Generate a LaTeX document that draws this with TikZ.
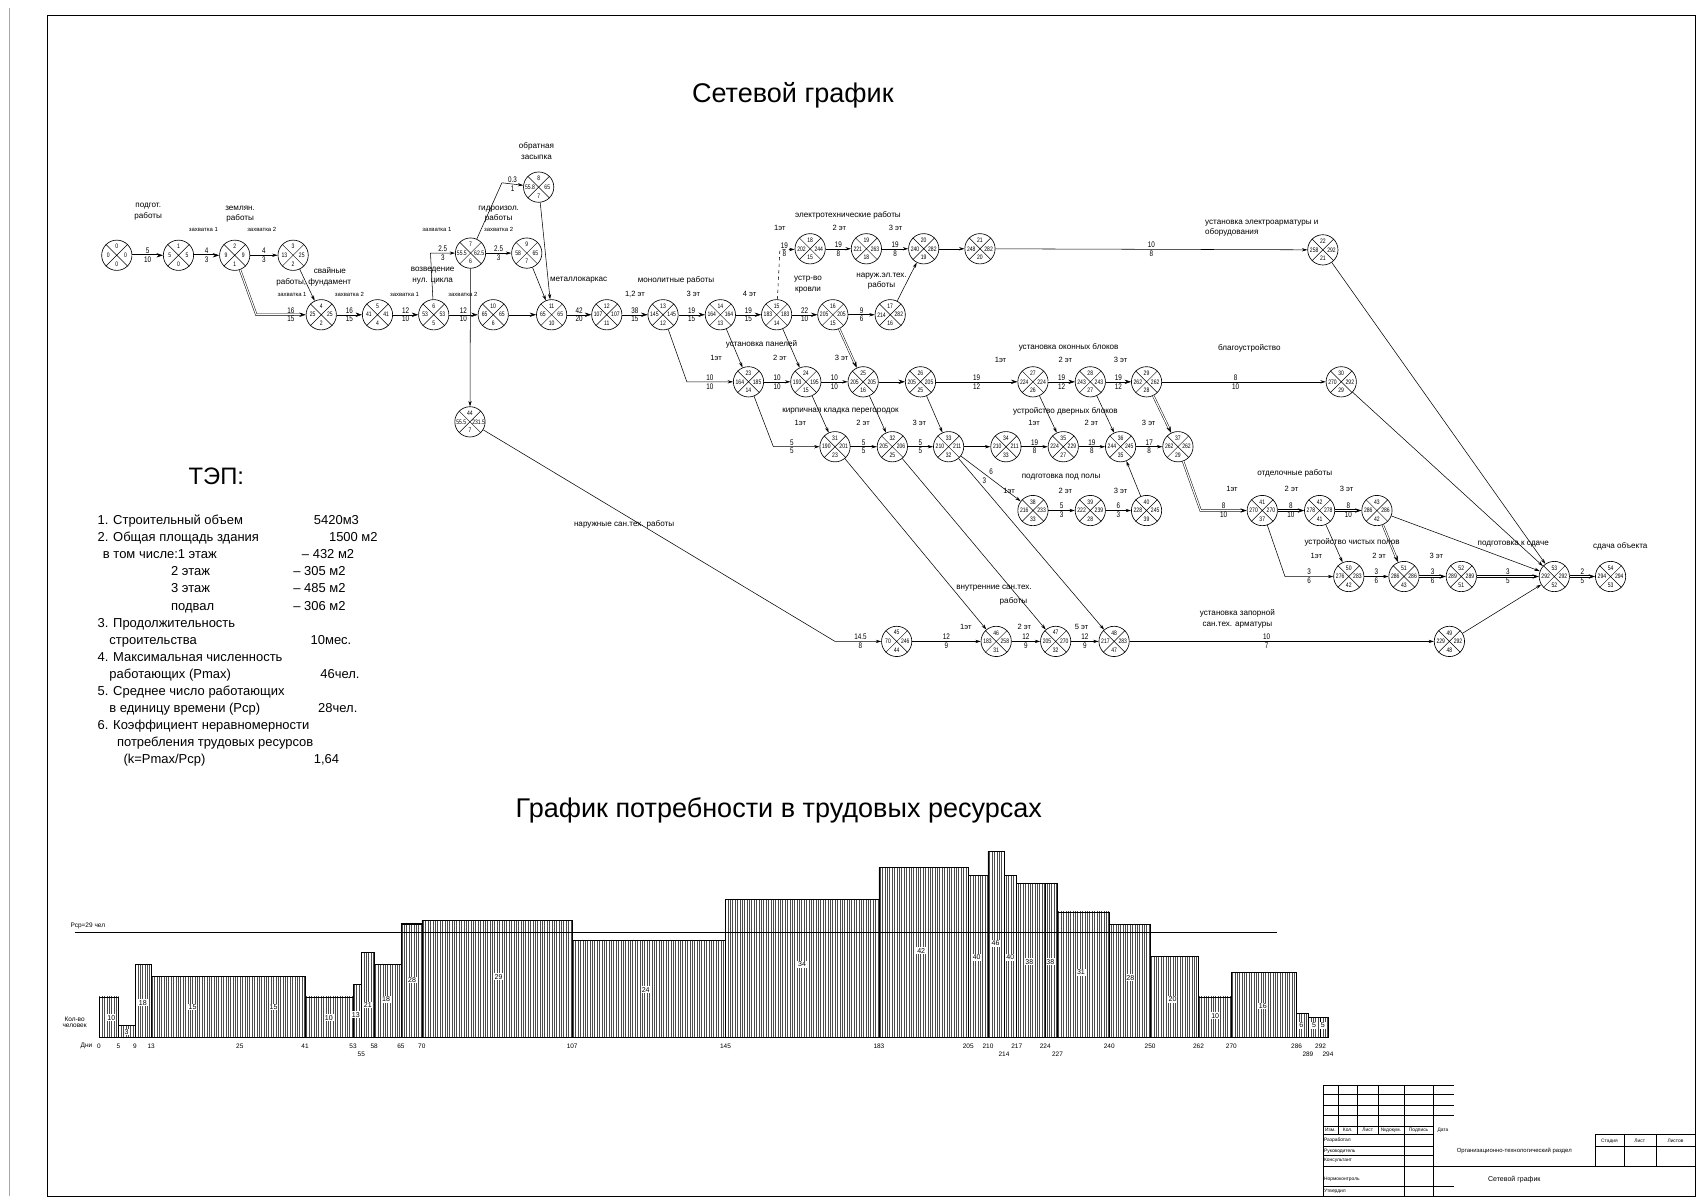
\documentclass[tikz,border=0pt]{standalone}
\usepackage{fontspec}
\setmainfont{Liberation Sans}
\newfontfamily\narrowf{Liberation Sans}[FakeStretch=0.78]
\usetikzlibrary{arrows.meta,patterns.meta}
\newcommand\evnt[7]{%
  \node[evt] (#1) at (#2,#3) {};
  \draw[xl] (#1.north west) -- (#1.south east) (#1.north east) -- (#1.south west);
  \path (#2,#3) ++(0,-8) node[num] (#1t) {#4} ++(-8,8) node[num] (#1l) {#5} ++(16,0) node[num] (#1r) {#6} ++(-8,8) node[num] (#1b) {#7};
}
\begin{document}
\begin{tikzpicture}[x=1pt,y=-1pt,
  evt/.style={circle,draw,minimum size=28pt,inner sep=0pt,line width=0.6pt},
  xl/.style={line width=0.45pt},
  num/.style={font=\narrowf\fontsize{6}{6}\selectfont,inner sep=0pt},
  lab/.style={font=\narrowf\fontsize{7.5}{7.5}\selectfont,inner sep=1.2pt},
  txt/.style={font=\fontsize{7.5}{10}\selectfont,inner sep=0pt,align=center},
  sml/.style={font=\fontsize{5.5}{6}\selectfont,inner sep=0pt},
  et/.style={font=\fontsize{7}{8}\selectfont,inner sep=0pt},
  arr/.style={-{Stealth[length=5pt,width=3pt]},line width=0.5pt},
  crit/.style={-{Stealth[length=6pt,width=4pt]},line width=0.45pt,double,double distance=1.1pt},
  tep/.style={font=\fontsize{12}{12}\selectfont,inner sep=0pt,anchor=base west},
  bar/.style={draw,line width=0.6pt,pattern={Lines[angle=90,distance=2.2pt,line width=0.9pt]},pattern color=black!70},
  vlab/.style={fill=white,inner sep=0.8pt,font=\fontsize{6.5}{6.5}\selectfont},
  day/.style={font=\fontsize{6}{6}\selectfont,inner sep=0pt},
  tb/.style={line width=0.5pt},
  tbt/.style={font=\fontsize{4.5}{5}\selectfont,inner sep=0pt},
  big/.style={font=\fontsize{25}{25}\selectfont,inner sep=0pt}
]
\useasboundingbox (0,0) rectangle (1568,1109);
\fill[white] (0,0) rectangle (1568,1109);
% frame
\draw[line width=0.6pt] (44,14) rectangle (1567,1106);
\draw[line width=0.5pt,black!35] (9,7) -- (9,1106);

% titles
\node[big] (title1) at (733,88) {Сетевой график};
\node[big] (title2) at (720,749) {График потребности в трудовых ресурсах};
\node[font=\fontsize{22}{22}\selectfont,inner sep=0pt] (teph) at (200,440) {ТЭП:};

% events
\evnt{n0}{108}{236}{0}{0}{0}{0}
\evnt{n1}{165}{236}{1}{5}{5}{0}
\evnt{n2}{217}{236}{2}{9}{9}{1}
\evnt{n3}{271}{236}{3}{13}{25}{2}
\evnt{n4}{297}{291}{4}{25}{25}{2}
\evnt{n5}{349}{291}{5}{41}{41}{4}
\evnt{n6}{401}{291}{6}{53}{53}{5}
\evnt{n10}{456}{291}{10}{65}{65}{6}
\evnt{n11}{510}{291}{11}{65}{65}{10}
\evnt{n7}{435}{234}{7}{55.5}{62.5}{6}
\evnt{n9}{487}{234}{9}{58}{65}{7}
\evnt{n8}{498}{173}{8}{55.8}{65}{7}
\evnt{n12}{561}{291}{12}{107}{107}{11}
\evnt{n13}{613}{291}{13}{145}{145}{12}
\evnt{n14}{666}{291}{14}{164}{164}{13}
\evnt{n15}{718}{291}{15}{183}{183}{14}
\evnt{n16}{770}{291}{16}{205}{205}{15}
\evnt{n17}{823}{291}{17}{214}{282}{16}
\evnt{n18}{749}{230}{18}{202}{244}{15}
\evnt{n19}{801}{230}{19}{221}{263}{18}
\evnt{n20}{854}{230}{20}{240}{282}{19}
\evnt{n21}{906}{230}{21}{248}{282}{20}
\evnt{n22}{1223}{231}{22}{258}{292}{21}
\evnt{n23}{692}{353}{23}{164}{185}{14}
\evnt{n24}{745}{353}{24}{193}{195}{15}
\evnt{n25}{798}{353}{25}{205}{205}{16}
\evnt{n26}{851}{353}{26}{205}{205}{25}
\evnt{n27}{955}{353}{27}{224}{224}{26}
\evnt{n28}{1008}{353}{28}{243}{243}{27}
\evnt{n29}{1060}{353}{29}{262}{262}{28}
\evnt{n30}{1240}{353}{30}{270}{292}{29}
\evnt{n31}{772}{413}{31}{190}{201}{23}
\evnt{n32}{825}{413}{32}{205}{206}{25}
\evnt{n33}{877}{413}{33}{210}{211}{32}
\evnt{n34}{930}{413}{34}{210}{211}{33}
\evnt{n35}{983}{413}{35}{224}{229}{27}
\evnt{n36}{1036}{413}{36}{244}{245}{35}
\evnt{n37}{1089}{413}{37}{262}{262}{29}
\evnt{n38}{955}{472}{38}{216}{233}{33}
\evnt{n39}{1008}{472}{39}{222}{239}{28}
\evnt{n40}{1060}{472}{40}{228}{245}{39}
\evnt{n41}{1167}{472}{41}{270}{270}{37}
\evnt{n42}{1220}{472}{42}{278}{278}{41}
\evnt{n43}{1273}{472}{43}{286}{286}{42}
\evnt{n50}{1247}{533}{50}{276}{283}{42}
\evnt{n51}{1298}{533}{51}{286}{286}{43}
\evnt{n52}{1351}{533}{52}{289}{289}{51}
\evnt{n53}{1437}{533}{53}{292}{292}{52}
\evnt{n54}{1489}{533}{54}{294}{294}{53}
\evnt{n44}{434.5}{390}{44}{55.5}{231.5}{7}
\evnt{n45}{829}{593}{45}{70}{246}{44}
\evnt{n46}{921}{593}{46}{183}{258}{31}
\evnt{n47}{976}{593}{47}{205}{270}{32}
\evnt{n48}{1030}{593}{48}{217}{283}{47}
\evnt{n49}{1340}{593}{49}{229}{292}{48}

% corner coordinates
\coordinate (c24) at (237,291);
\coordinate (c67) at (398,234);
\coordinate (c78) at (464,169);
\coordinate (c1518) at (721,231);
\coordinate (c13) at (635,353);
\coordinate (c23) at (715,413);
\coordinate (c37) at (1110,472);
\coordinate (c41) at (1188,533);
\coordinate (c44) at (772,593);

% connectors
\draw[crit] (n0) -- node[lab,above]{5} node[lab,below]{10} (n1);
\draw[crit] (n1) -- node[lab,above]{4} node[lab,below]{3} (n2);
\draw[arr] (n2) -- node[lab,above]{4} node[lab,below]{3} (n3);
\draw[crit] (n2) -- (c24) -- node[lab,above,pos=0.7]{16} node[lab,below,pos=0.7]{15} (n4);
\draw[arr] (n3) -- (n4);
\draw[crit] (n4) -- node[lab,above]{16} node[lab,below]{15} (n5);
\draw[crit] (n5) -- node[lab,above]{12} node[lab,below]{10} (n6);
\draw[crit] (n6) -- node[lab,above]{12} node[lab,below]{10} (n10);
\draw[arr] (n6) -- (c67) -- node[lab,above]{2.5} node[lab,below]{3} (n7);
\draw[arr] (n7) -- node[lab,above]{2.5} node[lab,below]{3} (n9);
\draw[arr] (n7) -- (c78) -- node[lab,above]{0.3} node[lab,below]{1} (n8);
\draw[arr] (n8) -- (n11);
\draw[arr] (n9) -- (n11);
\draw[crit] (n10) -- (n11);
\draw[arr] (n7) -- (n44);
\draw[arr] (n44) -- (c44) -- node[lab,above,pos=0.55]{14.5} node[lab,below,pos=0.55]{8} (n45);
\draw[crit] (n11) -- node[lab,above]{42} node[lab,below]{20} (n12);
\draw[crit] (n12) -- node[lab,above]{38} node[lab,below]{15} (n13);
\draw[crit] (n13) -- node[lab,above]{19} node[lab,below]{15} (n14);
\draw[crit] (n14) -- node[lab,above]{19} node[lab,below]{15} (n15);
\draw[crit] (n15) -- node[lab,above]{22} node[lab,below]{10} (n16);
\draw[arr] (n16) -- node[lab,above]{9} node[lab,below]{6} (n17);
\draw[arr] (n17) -- (n20);
\draw[arr,dashed] (n15) -- (c1518) -- node[lab,above,pos=0.3]{19} node[lab,below,pos=0.3]{8} (n18);
\draw[arr] (n18) -- node[lab,above]{19} node[lab,below]{8} (n19);
\draw[arr] (n19) -- node[lab,above]{19} node[lab,below]{8} (n20);
\draw[arr] (n20) -- (n21);
\draw[arr] (n21) -- node[lab,above]{10} node[lab,below]{8} (n22);
\draw[arr] (n22) -- (n53);
\draw[arr] (n13) -- (c13) -- node[lab,above]{10} node[lab,below]{10} (n23);
\draw[arr] (n14) -- (n23);
\draw[arr] (n23) -- node[lab,above]{10} node[lab,below]{10} (n24);
\draw[arr] (n15) -- (n24);
\draw[arr] (n24) -- node[lab,above]{10} node[lab,below]{10} (n25);
\draw[crit] (n16) -- (n25);
\draw[crit] (n25) -- (n26);
\draw[crit] (n26) -- node[lab,above]{19} node[lab,below]{12} (n27);
\draw[crit] (n27) -- node[lab,above]{19} node[lab,below]{12} (n28);
\draw[crit] (n28) -- node[lab,above]{19} node[lab,below]{12} (n29);
\draw[arr] (n29) -- node[lab,above,pos=0.45]{8} node[lab,below,pos=0.45]{10} (n30);
\draw[crit] (n29) -- (n37);
\draw[arr] (n23) -- (c23) -- node[lab,above,pos=0.4]{5} node[lab,below,pos=0.4]{5} (n31);
\draw[arr] (n24) -- (n31);
\draw[arr] (n31) -- node[lab,above]{5} node[lab,below]{5} (n32);
\draw[arr] (n25) -- (n32);
\draw[arr] (n32) -- node[lab,above]{5} node[lab,below]{5} (n33);
\draw[arr] (n26) -- (n33);
\draw[arr] (n33) -- (n34);
\draw[arr] (n34) -- node[lab,above]{19} node[lab,below]{8} (n35);
\draw[arr] (n27) -- (n35);
\draw[arr] (n35) -- node[lab,above]{19} node[lab,below]{8} (n36);
\draw[arr] (n28) -- (n36);
\draw[arr] (n36) -- node[lab,above]{17} node[lab,below]{8} (n37);
\draw[arr] (n40) -- (n36);
\draw[arr] (n33) -- node[lab,anchor=south west,pos=0.45]{6} node[lab,anchor=north east,pos=0.45]{3} (n38);
\draw[arr] (n38) -- node[lab,above]{5} node[lab,below]{3} (n39);
\draw[arr] (n39) -- node[lab,above]{6} node[lab,below]{3} (n40);
\draw[arr] (n31) -- (n46);
\draw[arr] (n32) -- (n47);
\draw[arr] (n33) -- (n48);
\draw[crit] (n37) -- (c37) -- node[lab,above,pos=0.5]{8} node[lab,below,pos=0.5]{10} (n41);
\draw[crit] (n41) -- node[lab,above]{8} node[lab,below]{10} (n42);
\draw[crit] (n42) -- node[lab,above]{8} node[lab,below]{10} (n43);
\draw[arr] (n41) -- (c41) -- node[lab,above,pos=0.5]{3} node[lab,below,pos=0.5]{6} (n50);
\draw[arr] (n42) -- (n50);
\draw[crit] (n43) -- (n51);
\draw[arr] (n50) -- node[lab,above]{3} node[lab,below]{6} (n51);
\draw[crit] (n51) -- node[lab,above]{3} node[lab,below]{6} (n52);
\draw[crit] (n52) -- node[lab,above]{3} node[lab,below]{5} (n53);
\draw[arr] (n43) -- (n53);
\draw[arr] (n30) -- (n53);
\draw[arr] (n49) -- (n53);
\draw[crit] (n53) -- node[lab,above]{2} node[lab,below]{5} (n54);
\draw[arr] (n45) -- node[lab,above]{12} node[lab,below]{9} (n46);
\draw[arr] (n46) -- node[lab,above]{12} node[lab,below]{9} (n47);
\draw[arr] (n47) -- node[lab,above]{12} node[lab,below]{9} (n48);
\draw[arr] (n48) -- node[lab,above,pos=0.45]{10} node[lab,below,pos=0.45]{7} (n49);

% work labels
\node[txt] (t1) at (137,196) {подгот.\\работы};
\node[txt] (t2) at (222,198) {землян.\\работы};
\node[sml] (z1) at (188,212) {захватка 1};
\node[sml] (z2) at (242,212) {захватка 2};
\node[txt] (t3) at (305,250) {свайные};
\node[txt] (t4) at (290,261) {работы, фундамент};
\node[sml] (z3) at (270,272) {захватка 1};
\node[sml] (z4) at (323,272) {захватка 2};
\node[txt] (t5) at (400,255) {возведение\\нул. цикла};
\node[sml] (z5) at (374,272) {захватка 1};
\node[sml] (z6) at (428,272) {захватка 2};
\node[sml] (z7) at (404,212) {захватка 1};
\node[sml] (z8) at (461,212) {захватка 2};
\node[txt] (t6) at (461,198) {гидроизол.\\работы};
\node[txt] (t7) at (496,140) {обратная\\засыпка};
\node[txt] (t8) at (535,259) {металлокаркас};
\node[txt] (t9) at (625,259) {монолитные работы};
\node[et] (e1) at (587,272) {1,2 эт};
\node[et] (e2) at (641,272) {3 эт};
\node[et] (e3) at (693,272) {4 эт};
\node[txt] (t10) at (784,199) {электротехнические работы};
\node[et] (e4) at (721,211) {1эт};
\node[et] (e5) at (776,211) {2 эт};
\node[et] (e6) at (828,211) {3 эт};
\node[txt] (t11) at (747,263) {устр-во\\кровли};
\node[txt] (t12) at (815,260) {наруж.эл.тех.\\работы};
\node[txt,align=left,anchor=west] (t13) at (1114,211) {установка электроарматуры и\\оборудования};
\node[txt] (t14) at (704,318) {установка панелей};
\node[et] (e7) at (662,331) {1эт};
\node[et] (e8) at (721,331) {2 эт};
\node[et] (e9) at (778,331) {3 эт};
\node[txt] (t15) at (777,380) {кирпичная кладка перегородок};
\node[et] (e10) at (740,391) {1эт};
\node[et] (e11) at (798,391) {2 эт};
\node[et] (e12) at (850,391) {3 эт};
\node[txt] (t16) at (988,321) {установка оконных блоков};
\node[et] (e13) at (925,333) {1эт};
\node[et] (e14) at (985,333) {2 эт};
\node[et] (e15) at (1036,333) {3 эт};
\node[txt] (t17) at (1155,322) {благоустройство};
\node[txt] (t18) at (985,380) {устройство дверных блоков};
\node[et] (e16) at (956,391) {1эт};
\node[et] (e17) at (1009,391) {2 эт};
\node[et] (e18) at (1062,391) {3 эт};
\node[txt] (t19) at (981,441) {подготовка под полы};
\node[et] (e19) at (933,454) {1эт};
\node[et] (e20) at (985,454) {2 эт};
\node[et] (e21) at (1036,454) {3 эт};
\node[txt] (t20) at (1197,438) {отделочные работы};
\node[et] (e22) at (1139,452) {1эт};
\node[et] (e23) at (1194,452) {2 эт};
\node[et] (e24) at (1245,452) {3 эт};
\node[txt] (t21) at (1250,501) {устройство чистых полов};
\node[et] (e25) at (1217,514) {1эт};
\node[et] (e26) at (1275,514) {2 эт};
\node[et] (e27) at (1328,514) {3 эт};
\node[txt] (t22) at (1399,503) {подготовка к сдаче};
\node[txt] (t23) at (1498,505) {сдача объекта};
\node[txt] (t24) at (1144,572) {установка запорной\\сан.тех. арматуры};
\node[txt] (t25) at (919,544) {внутренние сан.тех.};
\node[txt] (t26) at (937,556) {работы};
\node[et] (e28) at (893,580) {1эт};
\node[et] (e29) at (947,580) {2 эт};
\node[et] (e30) at (1000,580) {5 эт};
\node[txt] (t27) at (577,485) {наружные сан.тех. работы};

% TEP
\node[tep] (p1) at (90,485) {1. Строительный объем};
\node[tep] (v1) at (290,485) {5420м3};
\node[tep] (p2) at (90,500.8) {2. Общая площадь здания};
\node[tep] (v2) at (304,500.8) {1500 м2};
\node[tep] (p3) at (95,516.6) {в том числе:1 этаж};
\node[tep] (v3) at (279,516.6) {-- 432 м2};
\node[tep] (p4) at (158,532.4) {2 этаж};
\node[tep] (v4) at (271,532.4) {-- 305 м2};
\node[tep] (p5) at (158,548.2) {3 этаж};
\node[tep] (v5) at (271,548.2) {-- 485 м2};
\node[tep] (p6) at (158,564) {подвал};
\node[tep] (v6) at (271,564) {-- 306 м2};
\node[tep] (p7) at (90,579.8) {3. Продолжительность};
\node[tep] (p8) at (101,595.6) {строительства};
\node[tep] (v8) at (287,595.6) {10мес.};
\node[tep] (p9) at (90,611.4) {4. Максимальная численность};
\node[tep] (p10) at (101,627.2) {работающих (Pmax)};
\node[tep] (v10) at (296,627.2) {46чел.};
\node[tep] (p11) at (90,643) {5. Среднее число работающих};
\node[tep] (p12) at (101,658.8) {в единицу времени (Pср)};
\node[tep] (v12) at (294,658.8) {28чел.};
\node[tep] (p13) at (90,674.6) {6. Коэффициент неравномерности};
\node[tep] (p14) at (108,690.4) {потребления трудовых ресурсов};
\node[tep] (p15) at (114,706.2) {(k=Pmax/Pср)};
\node[tep] (v15) at (290,706.2) {1,64};

% bar chart
\foreach \a/\b/\v in {91.5/109.6/10,109.6/124.7/3,124.7/139.8/18,139.8/282/15,282/326.4/10,326.4/334/13,334/346/21,346/370.7/18,370.7/390/28,390/529/29,529/670.7/24,670.7/812.6/34,812.6/895.2/42,895.2/913.4/40,913.4/928.2/46,928.2/940/40,940/966.4/38,966.4/977.7/38,977.7/1025.5/31,1025.5/1063.3/28,1063.3/1108/20,1108/1138.4/10,1138.4/1198.7/16,1198.7/1209.2/6,1209.2/1220.9/5,1220.9/1227.8/5}
  {\draw[bar] (\a,959) rectangle (\b,{959-3.74*\v});}
\draw[line width=1.5pt] (370.7,854.3) -- (390,854.3);
\coordinate (rcpA) at (69,862);
\coordinate (rcpB) at (1181,862);
\draw[line width=0.6pt] (rcpA) -- (rcpB);
\node[day,anchor=west] (rcpl) at (65,856) {Рср=29 чел};
\node[day,align=center] (kol) at (69,945) {Кол-во\\человек};
\node[day] (dni) at (80,967) {Дни};
\foreach \x/\y/\t in {91.5/967/0,109.6/967/5,124.7/967/9,139.8/967/13,221.7/967/25,282/967/41,326.4/967/53,334/975/55,346/967/58,370.7/967/65,390/967/70,529/967/107,670.7/967/145,812.6/967/183,895.2/967/205,913.4/967/210,928.2/975/214,940/967/217,966.4/967/224,977.7/975/227,1025.5/967/240,1063.3/967/250,1108/967/262,1138.4/967/270,1198.7/967/286,1209.2/975/289,1220.9/967/292,1227.8/975/294}
  {\node[day] at (\x,\y) {\t};}
\foreach \x/\y/\t in {103/941/10,117/954/3,132/927/18,178/931/15,253/931/15,304/941/10,329/938/13,340/929/21,357/924/18,381/906/28,461/903/29,597/915/24,741.5/891.5/34,851.7/879/42,903/885/40,920.4/872/46,934/885/40,951.6/889/38,971/889/38,999.4/899/31,1045/904/28,1084/924/20,1123.5/939/10,1167.5/930/16,1203/948/6,1215/948/5,1223/948/5}
  {\node[vlab] at (\x,\y) {\t};}

% title block
\draw[tb] (1223,1003) -- (1223,1106);
\foreach \x in {1237,1255,1274} {\draw[tb] (\x,1003) -- (\x,1049);}
\draw[tb] (1298,1003) -- (1298,1106);
\draw[tb] (1325,1003) -- (1325,1106);
\foreach \x in {1475,1502,1531} {\draw[tb] (\x,1049) -- (\x,1078);}
\foreach \y in {1003,1012,1022,1031} {\draw[tb] (1223,\y) -- (1344,\y);}
\draw[tb] (1223,1041) -- (1325,1041);
\draw[tb] (1223,1049) -- (1325,1049) (1475,1049) -- (1567,1049);
\draw[tb] (1223,1060) -- (1325,1060) (1475,1060) -- (1567,1060);
\draw[tb] (1223,1068) -- (1325,1068);
\draw[tb] (1223,1078) -- (1567,1078);
\draw[tb] (1223,1097) -- (1344,1097);
\node[tbt] (h1) at (1230,1045) {Изм.};
\node[tbt] (h2) at (1246,1045) {Кол.};
\node[tbt] (h3) at (1264.5,1045) {Лист};
\node[tbt] (h4) at (1286,1045) {№докум.};
\node[tbt] (h5) at (1311.5,1045) {Подпись};
\node[tbt] (h6) at (1334,1045) {Дата};
\node[tbt,anchor=west] (r1) at (1224,1054.5) {Разработал};
\node[tbt,anchor=west] (r2) at (1224,1064) {Руководитель};
\node[tbt,anchor=west] (r3) at (1224,1073) {Консультант};
\node[tbt,anchor=west] (r4) at (1224,1090) {Нормоконтроль};
\node[tbt,anchor=west] (r5) at (1224,1101.5) {Утвердил};
\node[font=\fontsize{5.5}{6}\selectfont,inner sep=0pt] (org) at (1400,1064) {Организационно-технологический раздел};
\node[tbt] (s1) at (1488,1055) {Стадия};
\node[tbt] (s2) at (1516,1055) {Лист};
\node[tbt] (s3) at (1549,1055) {Листов};
\node[font=\fontsize{6.5}{7}\selectfont,inner sep=0pt] (sg) at (1400,1091) {Сетевой график};
\end{tikzpicture}
\end{document}
